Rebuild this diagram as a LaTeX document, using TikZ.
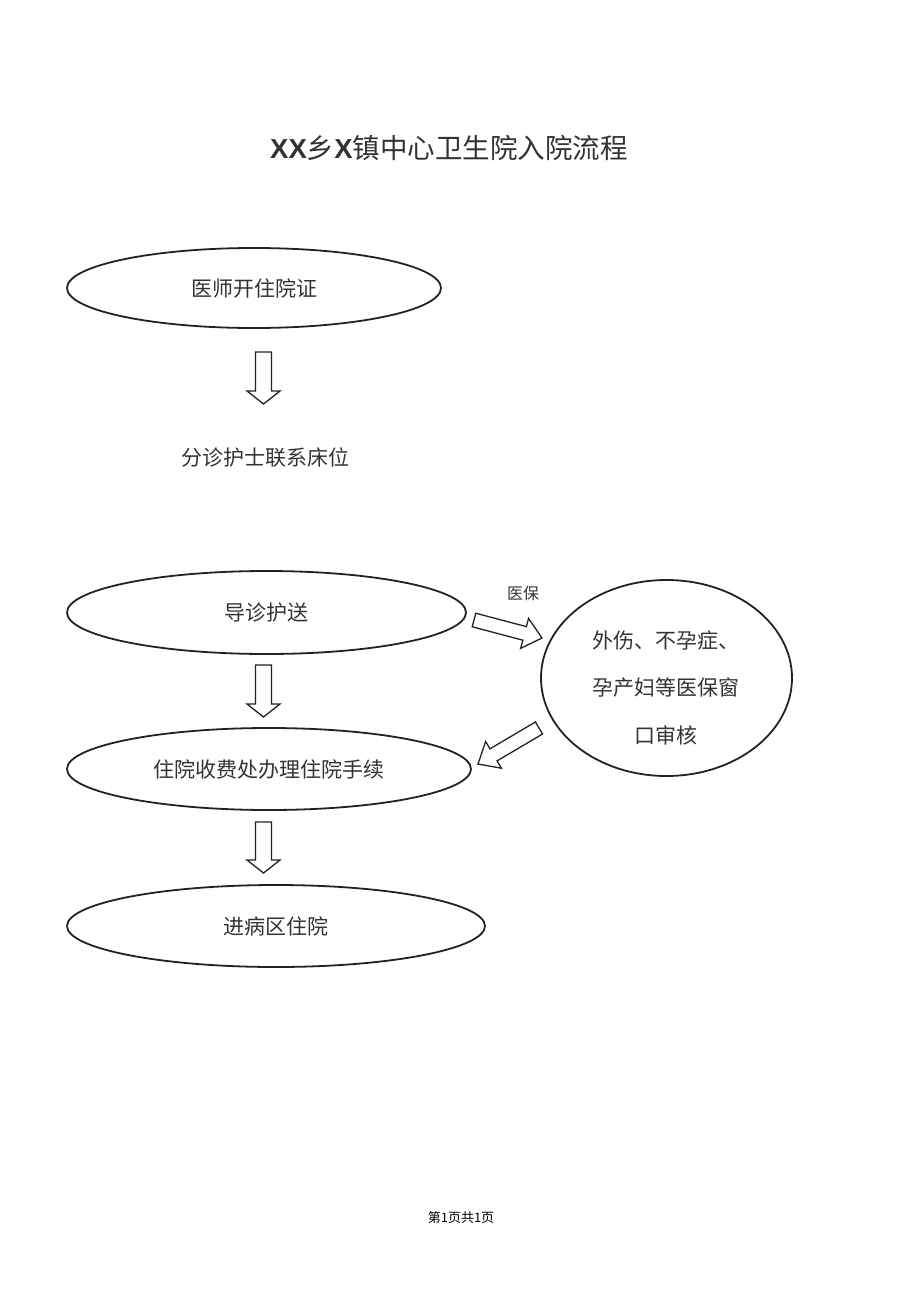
\documentclass[tikz,border=0pt]{standalone}
\usepackage{fontspec}
\setmainfont{Liberation Serif}
\newfontfamily\cjk{Noto Sans CJK SC}
\newfontfamily\latinb{Liberation Sans}
\usetikzlibrary{calc,shapes.geometric}
\definecolor{txt}{HTML}{333333}
\definecolor{ln}{HTML}{222222}
\newcommand\hollowarrow[5]{% start, tip, shaft half-width, head half-width, head length
  \draw[blockarrow]
    ($(#1)!#3!90:(#2)$) --
    ($($(#2)!#5!(#1)$)!#3!90:(#2)$) --
    ($($(#2)!#5!(#1)$)!#4!90:(#2)$) --
    (#2) --
    ($($(#2)!#5!(#1)$)!#4!-90:(#2)$) --
    ($($(#2)!#5!(#1)$)!#3!-90:(#2)$) --
    ($(#1)!#3!-90:(#2)$) -- cycle;}
\begin{document}
\begin{tikzpicture}[x=1pt,y=-1pt,
  oval/.style={ellipse, draw=ln, line width=1.8pt, inner sep=0pt, text=txt,
    font=\cjk\fontsize{21}{25}\selectfont},
  blockarrow/.style={draw=ln, line width=1.3pt, fill=white, line join=miter},
  plain/.style={text=txt, inner sep=0pt}]
\useasboundingbox (0,0) rectangle (920,1301);

\node[plain, font=\fontsize{27.5}{32}\selectfont] (title) at (449,148)
  {{\latinb\bfseries XX}{\cjk 乡}{\latinb\bfseries X}{\cjk 镇中心卫生院入院流程}};

\node[oval, minimum width=374pt, minimum height=80pt] (e1) at (254,288) {医师开住院证};
\node[plain, font=\cjk\fontsize{21}{25}\selectfont] (t2) at (265,458) {分诊护士联系床位};
\node[oval, minimum width=399pt, minimum height=83pt] (e2) at (266.5,612.5) {导诊护送};
\node[oval, minimum width=404pt, minimum height=82pt] (e3) at (269,769) {住院收费处办理住院手续};
\node[oval, minimum width=418pt, minimum height=82pt] (e4) at (276,926) {进病区住院};
\node[ellipse, draw=ln, line width=1.8pt, minimum width=251pt, minimum height=196pt] (c5) at (666.5,678) {};
\node[plain, align=center, font=\cjk\fontsize{21}{47.5}\selectfont] (t5) at (666,688)
  {外伤、不孕症、\\孕产妇等医保窗\\口审核};
\node[plain, font=\cjk\fontsize{16}{19}\selectfont] (lb) at (523,593) {医保};
\node[plain, text=black, font=\cjk\fontsize{13}{16}\selectfont] (foot) at (461,1218) {第1页共1页};

\coordinate (a1s) at (263.5,352);
\coordinate (a1e) at (263.5,404);
\coordinate (a2s) at (263.5,665);
\coordinate (a2e) at (263.5,717);
\coordinate (a3s) at (263.5,822);
\coordinate (a3e) at (263.5,873);
\coordinate (a4s) at (474,620);
\coordinate (a4e) at (542,638);
\coordinate (a5s) at (539,728);
\coordinate (a5e) at (478,764);

\hollowarrow{a1s}{a1e}{8pt}{16.5pt}{13pt}
\hollowarrow{a2s}{a2e}{8pt}{16.5pt}{13pt}
\hollowarrow{a3s}{a3e}{8pt}{16.5pt}{13pt}
\hollowarrow{a4s}{a4e}{7pt}{15.5pt}{18pt}
\hollowarrow{a5s}{a5e}{7pt}{15.5pt}{18pt}
\end{tikzpicture}
\end{document}
